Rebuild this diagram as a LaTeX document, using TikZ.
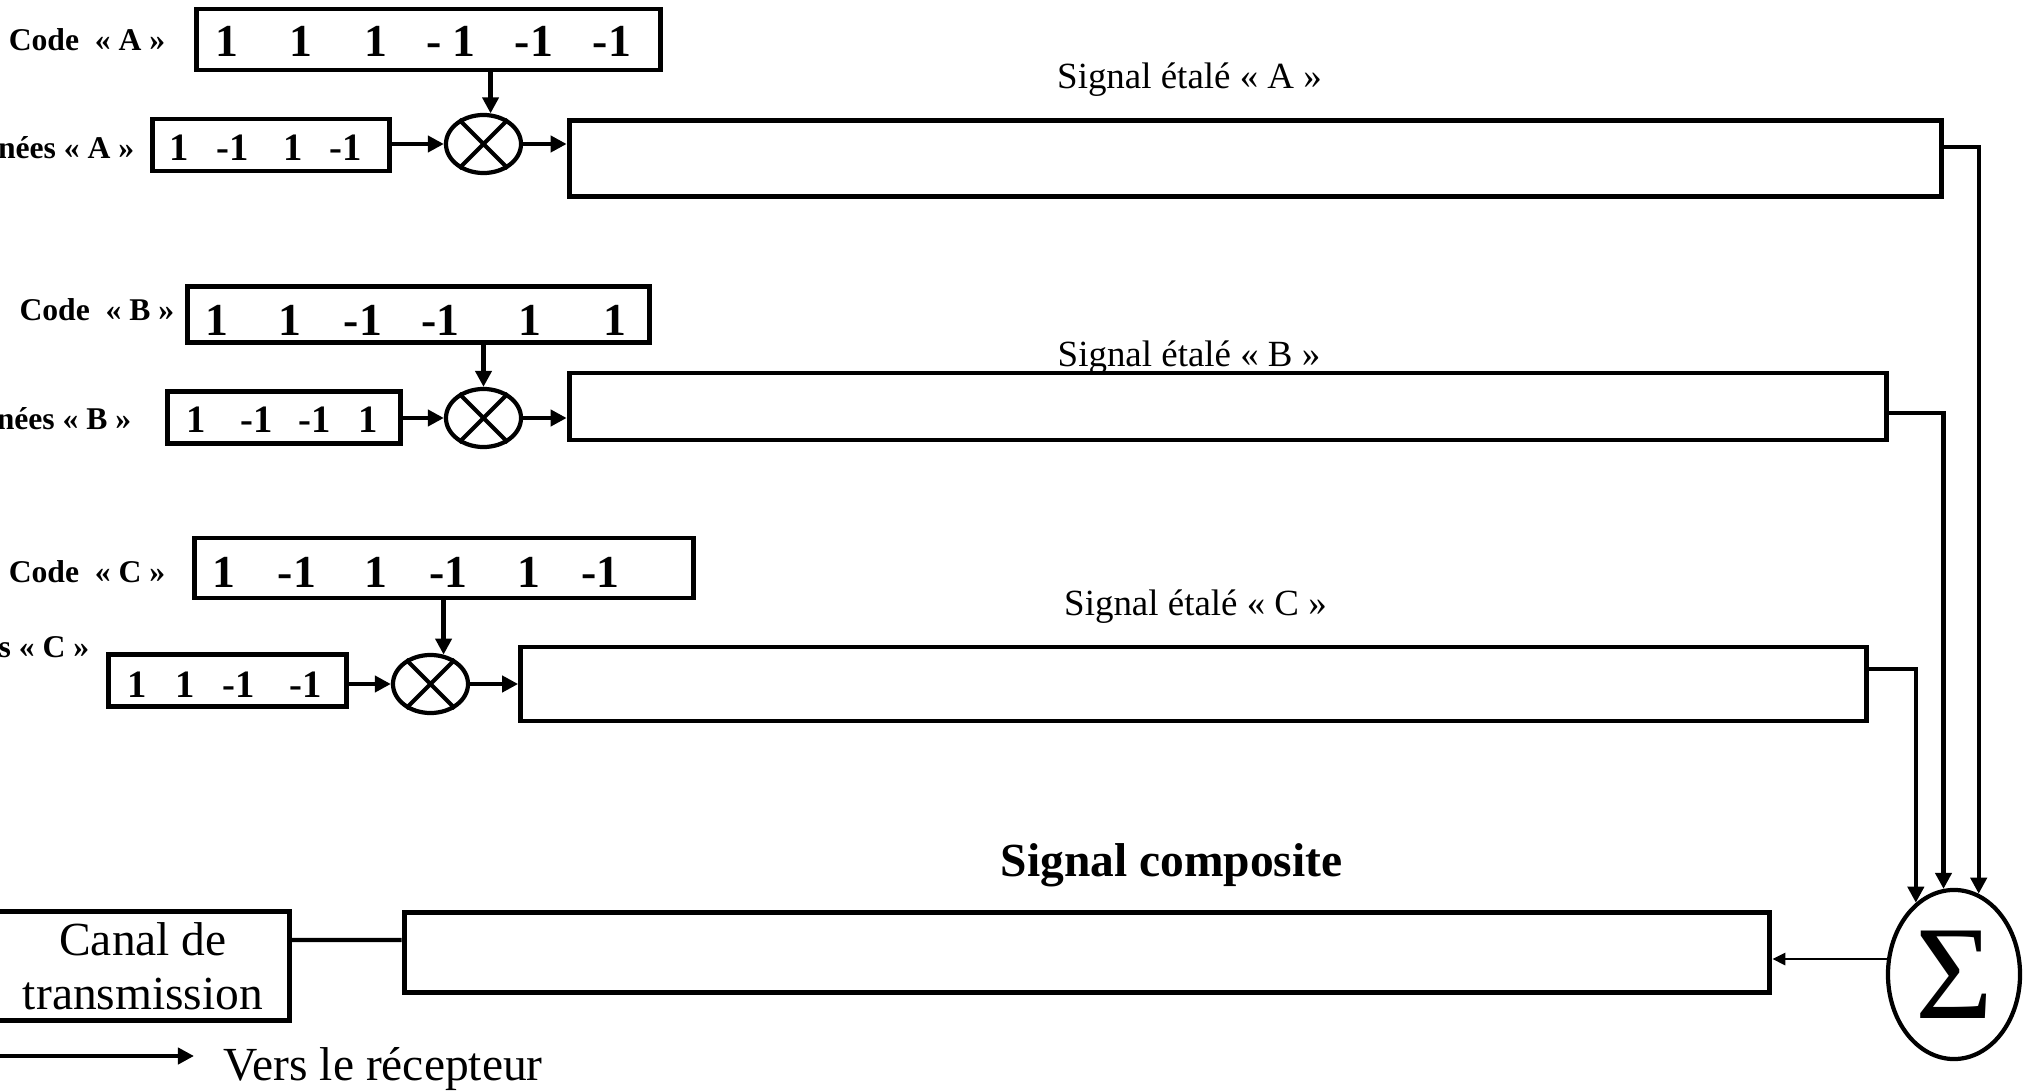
\documentclass[tikz,border=0pt]{standalone}
\usepackage{fontspec}
\setmainfont{Liberation Serif}
\usetikzlibrary{shapes.geometric,arrows.meta}

\begin{document}
\begin{tikzpicture}[x=.01cm,y=-.01cm,
   box/.style={draw,line width=1.4pt,inner sep=0pt},
   mult/.style={draw,ellipse,line width=1.2pt,inner sep=0pt,
      minimum width=.75cm,minimum height=.58cm},
   arr/.style={line width=1.2pt,-{Triangle[length=1.6mm,width=1.6mm]}},
   lbl/.style={font=\fontsize{9}{11}\selectfont\bfseries,inner sep=0pt,anchor=east},
   cnum/.style={font=\fontsize{13}{15}\selectfont\bfseries,inner sep=0pt},
   dnum/.style={font=\fontsize{11}{13}\selectfont\bfseries,inner sep=0pt},
   sig/.style={font=\fontsize{10.5}{12}\selectfont,inner sep=0pt,anchor=base}]
  \useasboundingbox[fill=white] (0,0) rectangle (2033,1091);
  % code boxes
  \node[box,minimum width=4.63cm,minimum height=.61cm] (cA) at (428.5,39.5) {};
  \node[box,minimum width=4.62cm,minimum height=.56cm] (cB) at (418.8,314.5) {};
  \node[box,minimum width=4.99cm,minimum height=.60cm] (cC) at (444,568) {};
  \node[lbl] (lcA) at (166,40) {Code~~« A »};
  \node[lbl] (lcB) at (175,310) {Code~~« B »};
  \node[lbl] (lcC) at (166,572) {Code~~« C »};
  \foreach \x/\v [count=\i] in {227/1,301/1,376/1,451/{- 1},534/-1,612/-1}
    \node[cnum] (nA\i) at (\x,41.5) {\v};
  \foreach \x/\v [count=\i] in {216.5/1,290.4/1,363/-1,440.8/-1,530.3/1,614.6/1}
    \node[cnum] (nB\i) at (\x,320) {\v};
  \foreach \x/\v [count=\i] in {224.3/1,297/-1,376/1,448.6/-1,529/1,600.3/-1}
    \node[cnum] (nC\i) at (\x,572) {\v};
  % data boxes
  \node[box,minimum width=2.36cm,minimum height=.52cm] (dA) at (271,145) {};
  \node[box,minimum width=2.33cm,minimum height=.52cm] (dB) at (284,417.5) {};
  \node[box,minimum width=2.38cm,minimum height=.52cm] (dC) at (227.5,680.7) {};
  \node[lbl] (ldA) at (135,148) {Données « A »};
  \node[lbl] (ldB) at (132,419) {Données « B »};
  \node[lbl] (ldC) at (90,647) {Données « C »};
  \foreach \x/\v [count=\i] in {179/1,233/-1,293/1,346/-1}
    \node[dnum] (mA\i) at (\x,148) {\v};
  \foreach \x/\v [count=\i] in {195.8/1,256.7/-1,315/-1,368.2/1}
    \node[dnum] (mB\i) at (\x,420) {\v};
  \foreach \x/\v [count=\i] in {137.4/1,185.4/1,238.6/-1,306/-1}
    \node[dnum] (mC\i) at (\x,684.6) {\v};
  % multipliers
  \node[mult] (xA) at (483.5,144) {};
  \node[mult] (xB) at (483.5,418) {};
  \node[mult] (xC) at (430.5,684) {};
  \foreach \m in {xA,xB,xC}
    \draw[line width=1.2pt] (\m.45) -- (\m.225) (\m.135) -- (\m.315);
  % spread signals
  \node[box,minimum width=13.72cm,minimum height=.76cm] (sA) at (1255.5,158.5) {};
  \node[box,minimum width=13.17cm,minimum height=.67cm] (sB) at (1228,406.5) {};
  \node[box,minimum width=13.45cm,minimum height=.74cm] (sC) at (1193.5,684) {};
  \node[sig] (tA) at (1189.5,89) {Signal étalé « A »};
  \node[sig] (tB) at (1189,366) {Signal étalé « B »};
  \node[sig] (tC) at (1195.5,615) {Signal étalé « C »};
  % sum and composite
  \node[draw,ellipse,line width=1.2pt,inner sep=0pt,minimum width=1.32cm,
    minimum height=1.69cm,font=\fontsize{38}{40}\selectfont] (sum) at (1954,974.5) {Σ};
  \node[box,minimum width=13.65cm,minimum height=.80cm] (comp) at (1087,952.5) {};
  \node[font=\fontsize{13.5}{15}\selectfont\bfseries,inner sep=0pt,anchor=base]
    (tcomp) at (1171.5,876) {Signal composite};
  \node[box,minimum width=2.93cm,minimum height=1.09cm,align=center,
    font=\fontsize{13.5}{15.3}\selectfont] (canal) at (143,966) {Canal de\\transmission};
  \node[font=\fontsize{13.5}{15}\selectfont,inner sep=0pt,anchor=base west]
    (recv) at (223,1080) {Vers le récepteur};
  \coordinate (vl) at (-10,1056);
  \coordinate (vr) at (194,1056);
  % connections
  \draw[arr] (cA.south -| xA.77) -- (xA.77);
  \draw[arr] (cB.south -| xB.north) -- (xB.north);
  \draw[arr] (cC.south -| xC.66) -- (xC.66);
  \draw[arr] (dA.east |- xA) -- (xA.west);
  \draw[arr] (dB.east |- xB) -- (xB.west);
  \draw[arr] (dC.east |- xC) -- (xC.west);
  \draw[arr] (xA.east) -- (sA.west |- xA.east);
  \draw[arr] (xB.east) -- (sB.west |- xB.east);
  \draw[arr] (xC.east) -- (sC.west |- xC.east);
  \draw[arr] ([yshift=.115cm]sA.east) -| (sum.73);
  \draw[arr] ([yshift=-.065cm]sB.east) -| (sum.97.5);
  \draw[arr] ([yshift=.15cm]sC.east) -| (sum.118);
  \draw[line width=.8pt,-{Triangle[length=1.3mm,width=1.2mm]}] (sum.167) -- (comp.east |- sum.167);
  \draw[line width=1.2pt] ([yshift=.125cm]comp.west) -- ([yshift=.26cm]canal.east);
  \draw[arr] (vl) -- (vr);
\end{tikzpicture}
\end{document}
